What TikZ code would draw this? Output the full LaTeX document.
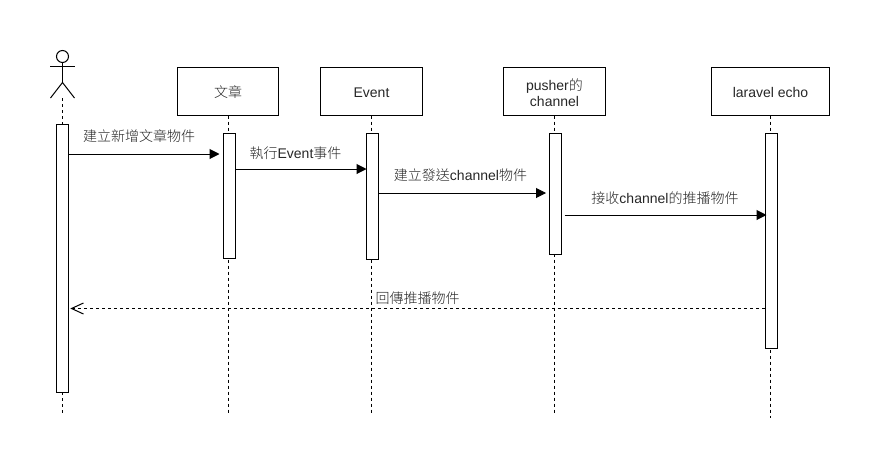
\documentclass[tikz,border=0pt]{standalone}
\usepackage{fontspec}
\setmainfont{Liberation Sans}
\newfontfamily\cjk{Noto Sans CJK TC Light}
\usetikzlibrary{arrows.meta}

% Plain open V for the reply message.
\pgfdeclarearrow{
    name=openvee,
    setup code={
        \pgfarrowssettipend{0pt}
        \pgfarrowssetlineend{-0.5pt}
        \pgfarrowssetbackend{-12pt}
        \pgfarrowssetvisualbackend{-0.5pt}
        \pgfarrowshullpoint{0pt}{0pt}
        \pgfarrowshullpoint{-12pt}{5.5pt}
        \pgfarrowshullpoint{-12pt}{-5.5pt}
    },
    drawing code={
        \pgfsetdash{}{0pt}
        \pgfpathmoveto{\pgfqpoint{-12pt}{5.5pt}}
        \pgfpathlineto{\pgfqpoint{0pt}{0pt}}
        \pgfpathlineto{\pgfqpoint{-12pt}{-5.5pt}}
        \pgfusepathqstroke
    }
}

\begin{document}
\begin{tikzpicture}[x=1pt,y=-1pt,line width=1pt,
        every node/.style={font=\fontsize{14}{16}\selectfont,text=black!85},
        headbox/.style={draw,minimum height=48pt,inner sep=0pt,align=center},
        bar/.style={draw,fill=white,minimum width=12pt,inner sep=0pt,anchor=north},
        life/.style={dash pattern=on 3pt off 3pt},
        msg/.style={-{Triangle[length=10pt,width=10pt]}},
        reply/.style={dash pattern=on 3pt off 3pt,-openvee}]

        \useasboundingbox (0,0) rectangle (881,469);

        % Heights of the messages and ends of the lifelines.
        \coordinate (y1) at (0,154);
        \coordinate (y2) at (0,169);
        \coordinate (y3) at (0,193);
        \coordinate (y4) at (0,215);
        \coordinate (y5) at (0,308.5);
        \coordinate (hip) at (62.5,82.5);
        \coordinate (foot) at (62.5,98);
        \coordinate (endactor) at (62.5,414);
        \coordinate (endarticle) at (228,414);
        \coordinate (endevent) at (371.5,414);
        \coordinate (endchannel) at (554.5,414);
        \coordinate (endecho) at (770.5,418);

        % The four boxes along the top.
        \node[headbox,minimum width=101.5pt] (article) at (228,91) {};
        \node[headbox,minimum width=101.5pt] (event) at (371.5,91) {};
        \node[headbox,minimum width=101.5pt] (channel) at (554.5,91) {};
        \node[headbox,minimum width=118pt] (echo) at (770.5,91) {};

        % Their texts.
        \node (tarticle) at (228,92.5) {{\cjk 文章}};
        \node (tevent) at (371.5,92.5) {Event};
        \node[align=center] (tchannel) at (554.5,93) {pusher{\cjk 的}\\channel};
        \node (techo) at (770.5,92.5) {laravel echo};

        % Lifelines go under the bars.
        \draw[life] (foot) -- (endactor);
        \draw[life] (article.south) -- (endarticle);
        \draw[life] (event.south) -- (endevent);
        \draw[life] (channel.south) -- (endchannel);
        \draw[life] (echo.south) -- (endecho);

        % Activation bars.
        \node[bar,minimum height=268pt] (baractor) at (62.5,124) {};
        \node[bar,minimum height=125pt] (bararticle) at (229,133) {};
        \node[bar,minimum height=126pt] (barevent) at (372,133) {};
        \node[bar,minimum height=121pt] (barchannel) at (555.5,133) {};
        \node[bar,minimum height=215pt] (barecho) at (771,133) {};

        % The stick figure.
        \node[draw,circle,minimum size=12pt,inner sep=0pt] (head) at (62.5,56.5) {};
        \draw (head.south) -- (hip);
        \draw (50,66) -- (74.5,66);
        \draw (50.5,98) -- (hip) -- (74.5,98);

        % Messages.
        \draw[msg,shorten >=3pt] (baractor.east |- y1) -- (bararticle.west |- y1);
        \draw[msg,shorten >=-1pt] (bararticle.east |- y2) -- (barevent.west |- y2);
        \draw[msg,shorten >=3pt] (barevent.east |- y3) -- (barchannel.west |- y3);
        \draw[msg,shorten <=2.5pt,shorten >=-2pt] (barchannel.east |- y4) -- (barecho.west |- y4);
        \draw[reply,shorten >=2.5pt] (barecho.west |- y5) -- (baractor.east |- y5);

        % Labels above the messages.
        \node (t1) at (139,136) {{\cjk 建立新增文章物件}};
        \node (t2) at (295.5,153) {{\cjk 執行}Event{\cjk 事件}};
        \node (t3) at (460.5,175.5) {{\cjk 建立發送}channel{\cjk 物件}};
        \node (t4) at (665,198) {{\cjk 接收}channel{\cjk 的推播物件}};
        \node (t5) at (417.5,298.5) {{\cjk 回傳推播物件}};
    \end{tikzpicture}
\end{document}
